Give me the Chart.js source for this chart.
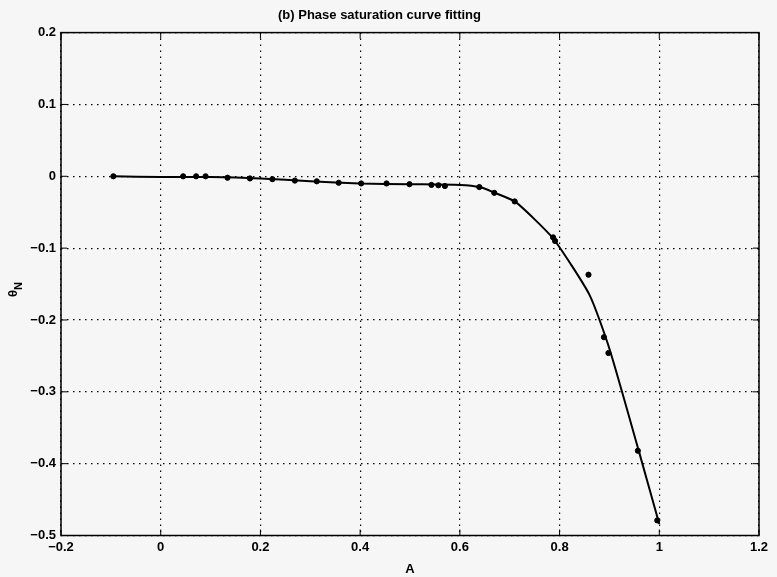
<!DOCTYPE html>
<html>
<head>
<meta charset="utf-8">
<script src="https://cdn.jsdelivr.net/npm/chart.js@4/dist/chart.umd.min.js"></script>
<style>
  html, body { margin: 0; padding: 0; background: #f6f6f6; }
  #wrap { width: 777px; height: 577px; }
</style>
</head>
<body>
<div id="wrap"><canvas id="c" width="777" height="577"></canvas></div>
<script>
// measured points (amplitude A vs normalised phase)
const pointA = [-0.095, 0.045, 0.071, 0.090, 0.134, 0.179, 0.224, 0.269, 0.313, 0.357,
  0.402, 0.453, 0.499, 0.543, 0.557, 0.570, 0.639, 0.669, 0.710, 0.787, 0.791,
  0.858, 0.889, 0.898, 0.957, 0.996];
const pointTheta = [0.000, 0.000, 0.000, 0.000, -0.002, -0.003, -0.004, -0.006, -0.007, -0.009,
  -0.010, -0.010, -0.011, -0.012, -0.0125, -0.0135, -0.015, -0.023, -0.035, -0.085, -0.090,
  -0.137, -0.224, -0.246, -0.382, -0.479];

// fitted saturation curve
const fitA = [-0.095, 0.0, 0.1, 0.2, 0.3, 0.4, 0.5, 0.6, 0.64, 0.67, 0.71, 0.75, 0.79, 0.86, 0.90, 0.96, 1.0];
const fitTheta = [0.000, -0.001, -0.001, -0.003, -0.007, -0.010, -0.011, -0.012, -0.015, -0.023,
  -0.035, -0.060, -0.089, -0.165, -0.240, -0.385, -0.484];

// tick labels
const xTicks = [-0.2, 0, 0.2, 0.4, 0.6, 0.8, 1, 1.2];
const xTickLabels = ['\u22120.2', '0', '0.2', '0.4', '0.6', '0.8', '1', '1.2'];
const yTicks = [-0.5, -0.4, -0.3, -0.2, -0.1, 0, 0.1, 0.2];
const yTickLabels = ['\u22120.5', '\u22120.4', '\u22120.3', '\u22120.2', '\u22120.1', '0', '0.1', '0.2'];

const FONT = "'Liberation Sans', Arial, sans-serif";

// frame, inward ticks and the theta_N label
const frame = {
  id: 'frame',
  afterDraw(chart) {
    const {ctx, chartArea: a, scales: {x, y}} = chart;
    ctx.save();
    ctx.strokeStyle = '#000';
    ctx.lineWidth = 1.5;
    ctx.strokeRect(a.left, a.top, a.right - a.left, a.bottom - a.top);
    ctx.lineWidth = 1;
    ctx.beginPath();
    xTicks.forEach((v) => {
      const px = x.getPixelForValue(v);
      ctx.moveTo(px, a.bottom); ctx.lineTo(px, a.bottom - 6);
      ctx.moveTo(px, a.top); ctx.lineTo(px, a.top + 6);
    });
    yTicks.forEach((v) => {
      const py = y.getPixelForValue(v);
      ctx.moveTo(a.left, py); ctx.lineTo(a.left + 6, py);
      ctx.moveTo(a.right, py); ctx.lineTo(a.right - 6, py);
    });
    ctx.stroke();

    // y label: theta with subscript N
    ctx.translate(17, 297);
    ctx.rotate(-Math.PI / 2);
    ctx.fillStyle = '#000';
    ctx.textBaseline = 'alphabetic';
    ctx.font = 'bold 13px ' + FONT;
    ctx.fillText('\u03b8', 0, 0);
    const w = ctx.measureText('\u03b8').width;
    ctx.font = 'bold 11px ' + FONT;
    ctx.fillText('N', w, 5);
    ctx.restore();
  },
};

new Chart(document.getElementById('c'), {
  type: 'scatter',
  data: {
    datasets: [{
      data: pointA.map((a, i) => ({ x: a, y: pointTheta[i] })),
      backgroundColor: '#000',
      borderColor: '#000',
      pointRadius: 2.6,
      showLine: false,
    }, {
      data: fitA.map((a, i) => ({ x: a, y: fitTheta[i] })),
      borderColor: '#000',
      borderWidth: 2,
      pointRadius: 0,
      showLine: true,
      tension: 0.2,
    }],
  },
  options: {
    responsive: false,
    animation: false,
    layout: { padding: { left: 0, right: 18, top: 0, bottom: 0 } },
    plugins: {
      legend: { display: false },
      tooltip: { enabled: false },
      title: {
        display: true,
        text: '(b) Phase saturation curve fitting',
        color: '#000',
        font: { family: FONT, size: 13, weight: 'bold' },
        padding: { top: 8, bottom: 9 },
      },
    },
    scales: {
      x: {
        type: 'linear',
        min: -0.2,
        max: 1.2,
        afterBuildTicks: (s) => { s.ticks = xTicks.map((v) => ({ value: v })); },
        afterFit: (s) => { s.height = 41.5; },
        ticks: {
          callback: (v, i) => xTickLabels[i],
          color: '#000',
          padding: 4,
          maxRotation: 0,
          font: { family: FONT, size: 13, weight: 'bold' },
        },
        grid: {
          color: '#000',
          lineWidth: 1.2,
          drawTicks: false,
        },
        border: { display: false, dash: [1.5, 4.5] },
        title: {
          display: true,
          text: 'A',
          color: '#000',
          padding: { top: 2, bottom: 0 },
          font: { family: FONT, size: 13, weight: 'bold' },
        },
      },
      y: {
        type: 'linear',
        min: -0.5,
        max: 0.2,
        afterBuildTicks: (s) => { s.ticks = yTicks.map((v) => ({ value: v })); },
        afterFit: (s) => { s.width = 61; },
        ticks: {
          callback: (v, i) => yTickLabels[i],
          color: '#000',
          padding: 5,
          font: { family: FONT, size: 13, weight: 'bold' },
        },
        grid: {
          color: '#000',
          lineWidth: 1.2,
          drawTicks: false,
        },
        border: { display: false, dash: [1.5, 4.5] },
      },
    },
  },
  plugins: [frame],
});
</script>
</body>
</html>
